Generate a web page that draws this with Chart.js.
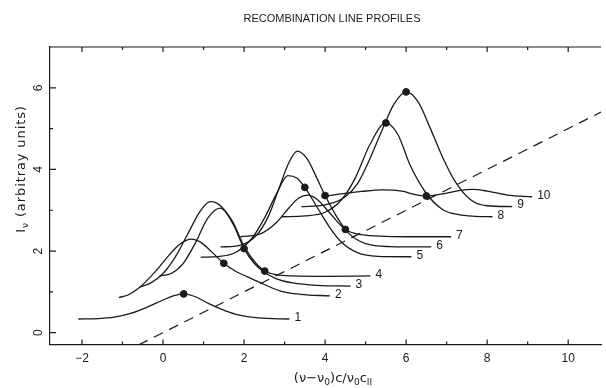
<!DOCTYPE html>
<html>
<head>
<meta charset="utf-8">
<script src="https://cdn.jsdelivr.net/npm/chart.js@4.4.0/dist/chart.umd.min.js"></script>
<style>
  html, body { margin: 0; padding: 0; background: #fff; }
  #wrap { width: 606px; height: 388px; }
</style>
</head>
<body>
<div id="wrap"><canvas id="chart" width="606" height="388"></canvas></div>
<script>
// profiles, one pair of arrays per curve (x, intensity)
const c1x = [-2.09, -1.6, -1.2, -0.8, -0.4, 0.0, 0.25, 0.51, 0.8, 1.13, 1.45, 1.8, 2.35, 3.12];
const c1y = [0.335, 0.345, 0.38, 0.47, 0.62, 0.8, 0.9, 0.95, 0.88, 0.71, 0.57, 0.45, 0.36, 0.335];
const c2x = [-1.09, -0.85, -0.59, -0.3, -0.1, 0.15, 0.39, 0.7, 0.95, 1.2, 1.5, 1.8, 2.1, 2.5, 2.9, 3.4, 4.12];
const c2y = [0.86, 0.93, 1.1, 1.38, 1.6, 1.9, 2.15, 2.29, 2.2, 1.98, 1.7, 1.5, 1.36, 1.18, 1.02, 0.94, 0.9];
const c3x = [-0.58, -0.3, 0.0, 0.3, 0.6, 0.9, 1.17, 1.45, 1.75, 2.0, 2.25, 2.5, 2.8, 3.2, 3.8, 4.63];
const c3y = [1.12, 1.22, 1.45, 1.85, 2.4, 2.95, 3.21, 3.08, 2.62, 2.06, 1.7, 1.48, 1.32, 1.22, 1.16, 1.14];
const c4x = [-0.08, 0.2, 0.5, 0.8, 1.1, 1.41, 1.7, 2.0, 2.25, 2.51, 2.8, 3.2, 4.0, 5.12];
const c4y = [1.39, 1.45, 1.7, 2.2, 2.8, 3.05, 2.75, 2.12, 1.75, 1.51, 1.42, 1.39, 1.38, 1.39];
const c5x = [0.93, 1.4, 1.8, 2.2, 2.5, 2.8, 3.08, 3.3, 3.5, 3.8, 4.1, 4.4, 4.8, 5.3, 6.13];
const c5y = [1.85, 1.87, 1.97, 2.32, 2.8, 3.4, 3.85, 3.79, 3.56, 3.08, 2.6, 2.22, 1.96, 1.87, 1.86];
const c6x = [1.42, 1.9, 2.3, 2.6, 2.85, 3.1, 3.31, 3.55, 3.8, 4.0, 4.3, 4.6, 5.0, 5.6, 6.62];
const c6y = [2.1, 2.14, 2.38, 2.85, 3.5, 4.15, 4.45, 4.27, 3.78, 3.36, 2.82, 2.42, 2.18, 2.11, 2.1];
const c7x = [1.91, 2.4, 2.8, 3.1, 3.35, 3.57, 3.8, 4.1, 4.5, 4.9, 5.5, 6.3, 7.11];
const c7y = [2.35, 2.42, 2.7, 3.05, 3.3, 3.37, 3.27, 2.95, 2.53, 2.4, 2.36, 2.35, 2.35];
const c8x = [2.93, 3.5, 4.0, 4.4, 4.75, 5.1, 5.5, 5.8, 6.1, 6.5, 6.9, 7.3, 7.7, 8.13];
const c8y = [2.84, 2.86, 2.95, 3.25, 3.8, 4.6, 5.14, 4.85, 4.1, 3.41, 3.02, 2.89, 2.85, 2.84];
const c9x = [3.42, 4.0, 4.5, 4.8, 5.1, 5.4, 5.7, 6.0, 6.3, 6.6, 6.9, 7.2, 7.6, 8.0, 8.62];
const c9y = [3.09, 3.13, 3.33, 3.65, 4.25, 4.95, 5.6, 5.9, 5.65, 5.0, 4.3, 3.72, 3.25, 3.11, 3.09];
const c10x = [3.91, 4.4, 4.9, 5.4, 5.9, 6.2, 6.5, 6.9, 7.3, 7.65, 8.0, 8.5, 9.11];
const c10y = [3.33, 3.4, 3.46, 3.5, 3.47, 3.39, 3.35, 3.4, 3.48, 3.51, 3.47, 3.37, 3.33];

const curveLabels = ['1', '2', '3', '4', '5', '6', '7', '8', '9', '10'];

// line-centre markers
const dotX = [0.51, 1.5, 2.0, 2.51, 3.5, 4.0, 4.5, 5.5, 6.0, 6.5];
const dotY = [0.95, 1.7, 2.06, 1.51, 3.56, 3.36, 2.53, 5.14, 5.9, 3.35];

// dashed guide line
const dashX = [-0.6, 10.81];
const dashY = [-0.3, 5.405];

const xTicks = [-2, 0, 2, 4, 6, 8, 10];
const yTicks = [0, 2, 4, 6];

const ink = '#1a1a1a';
const font = 'Liberation Sans, Arial, sans-serif';
const titleFont = 'DejaVu Sans, sans-serif';

const allX = [c1x, c2x, c3x, c4x, c5x, c6x, c7x, c8x, c9x, c10x];
const allY = [c1y, c2y, c3y, c4y, c5y, c6y, c7y, c8y, c9y, c10y];
const pts = (xs, ys) => xs.map((v, i) => ({ x: v, y: ys[i] }));

const datasets = allX.map((xs, i) => ({
  label: curveLabels[i],
  data: pts(xs, allY[i]),
  borderColor: ink,
  borderWidth: 1.3,
  pointRadius: 0,
  cubicInterpolationMode: 'monotone',
  fill: false,
  order: 2
}));
datasets.push({
  label: 'guide',
  data: pts(dashX, dashY),
  borderColor: ink,
  borderWidth: 1.2,
  borderDash: [10, 7],
  pointRadius: 0,
  fill: false,
  order: 3
});
datasets.push({
  label: 'centres',
  type: 'scatter',
  data: pts(dotX, dotY),
  backgroundColor: ink,
  borderColor: ink,
  pointRadius: 3.4,
  order: 0
});

// draw a subscripted string: parts = [[text, isSub], ...]
function drawParts(ctx, parts, size, cx, cy, family) {
  const sub = Math.round(size * 0.7);
  let w = 0;
  parts.forEach(p => {
    ctx.font = (p[1] ? sub : size) + 'px ' + family;
    w += ctx.measureText(p[0]).width;
  });
  let x = cx - w / 2;
  parts.forEach(p => {
    ctx.font = (p[1] ? sub : size) + 'px ' + family;
    ctx.fillText(p[0], x, p[1] ? cy + size * 0.3 : cy);
    x += ctx.measureText(p[0]).width;
  });
}

const decor = {
  id: 'decor',
  afterDraw(chart) {
    const { ctx, chartArea: a, scales: { x, y } } = chart;
    ctx.save();
    ctx.strokeStyle = ink;
    ctx.fillStyle = ink;
    ctx.lineWidth = 1.2;
    ctx.beginPath();
    ctx.moveTo(a.left, a.top);
    ctx.lineTo(a.right, a.top);
    for (let v = -2; v <= 10; v++) {
      const px = x.getPixelForValue(v);
      const len = v % 2 === 0 ? 5 : 3;
      ctx.moveTo(px, a.bottom);
      ctx.lineTo(px, a.bottom - len);
      ctx.moveTo(px, a.top);
      ctx.lineTo(px, a.top + len);
    }
    for (let v = 0; v <= 6; v++) {
      const py = y.getPixelForValue(v);
      const len = v % 2 === 0 ? 6 : 3;
      ctx.moveTo(a.left, py);
      ctx.lineTo(a.left + len, py);
    }
    ctx.stroke();

    // curve numbers at the right end of each profile
    ctx.font = '12px ' + font;
    ctx.textAlign = 'left';
    ctx.textBaseline = 'middle';
    curveLabels.forEach((lab, i) => {
      const pts = chart.getDatasetMeta(i).data;
      const end = pts[pts.length - 1];
      ctx.fillText(lab, end.x + 5, end.y - 1.5);
    });

    // titles
    ctx.font = '11px ' + font;
    ctx.textAlign = 'center';
    ctx.fillText('RECOMBINATION LINE PROFILES', 332, 19);
    ctx.textAlign = 'left';
    drawParts(ctx, [['(ν−ν', false], ['0', true], [')c/ν', false], ['0', true], ['c', false], ['II', true]], 13, 333, 379, titleFont);
    ctx.translate(22, 169);
    ctx.rotate(-Math.PI / 2);
    ctx.letterSpacing = '0.9px';
    drawParts(ctx, [['I', false], ['ν', true], [' (arbitray units)', false]], 13, 0, 0, titleFont);
    ctx.restore();
  }
};

new Chart(document.getElementById('chart'), {
  type: 'line',
  data: { datasets },
  options: {
    responsive: false,
    animation: false,
    devicePixelRatio: 1,
    layout: { padding: { top: 47, right: 0, left: 0, bottom: 0 } },
    plugins: { legend: { display: false }, title: { display: false }, tooltip: { enabled: false } },
    scales: {
      x: {
        type: 'linear',
        min: -2.79,
        max: 10.81,
        afterBuildTicks: s => { s.ticks = xTicks.map(v => ({ value: v })); },
        afterFit: s => { s.height = 43.5; s.paddingLeft = 0; s.paddingRight = 0; },
        grid: { display: false, drawTicks: false },
        border: { display: true, color: ink, width: 1.2 },
        ticks: {
          color: ink,
          font: { family: font, size: 12 },
          padding: 7,
          maxRotation: 0,
          callback: v => String(v).replace('-', '−')
        }
      },
      y: {
        type: 'linear',
        min: -0.29,
        max: 7.0,
        afterBuildTicks: s => { s.ticks = yTicks.map(v => ({ value: v })); },
        afterFit: s => { s.width = 50; s.paddingTop = 0; s.paddingBottom = 0; },
        grid: { display: false, drawTicks: false },
        border: { display: true, color: ink, width: 1.2 },
        ticks: {
          color: ink,
          font: { family: font, size: 12 },
          padding: 8,
          minRotation: 90,
          maxRotation: 90,
          crossAlign: 'center'
        }
      }
    }
  },
  plugins: [decor]
});
</script>
</body>
</html>
